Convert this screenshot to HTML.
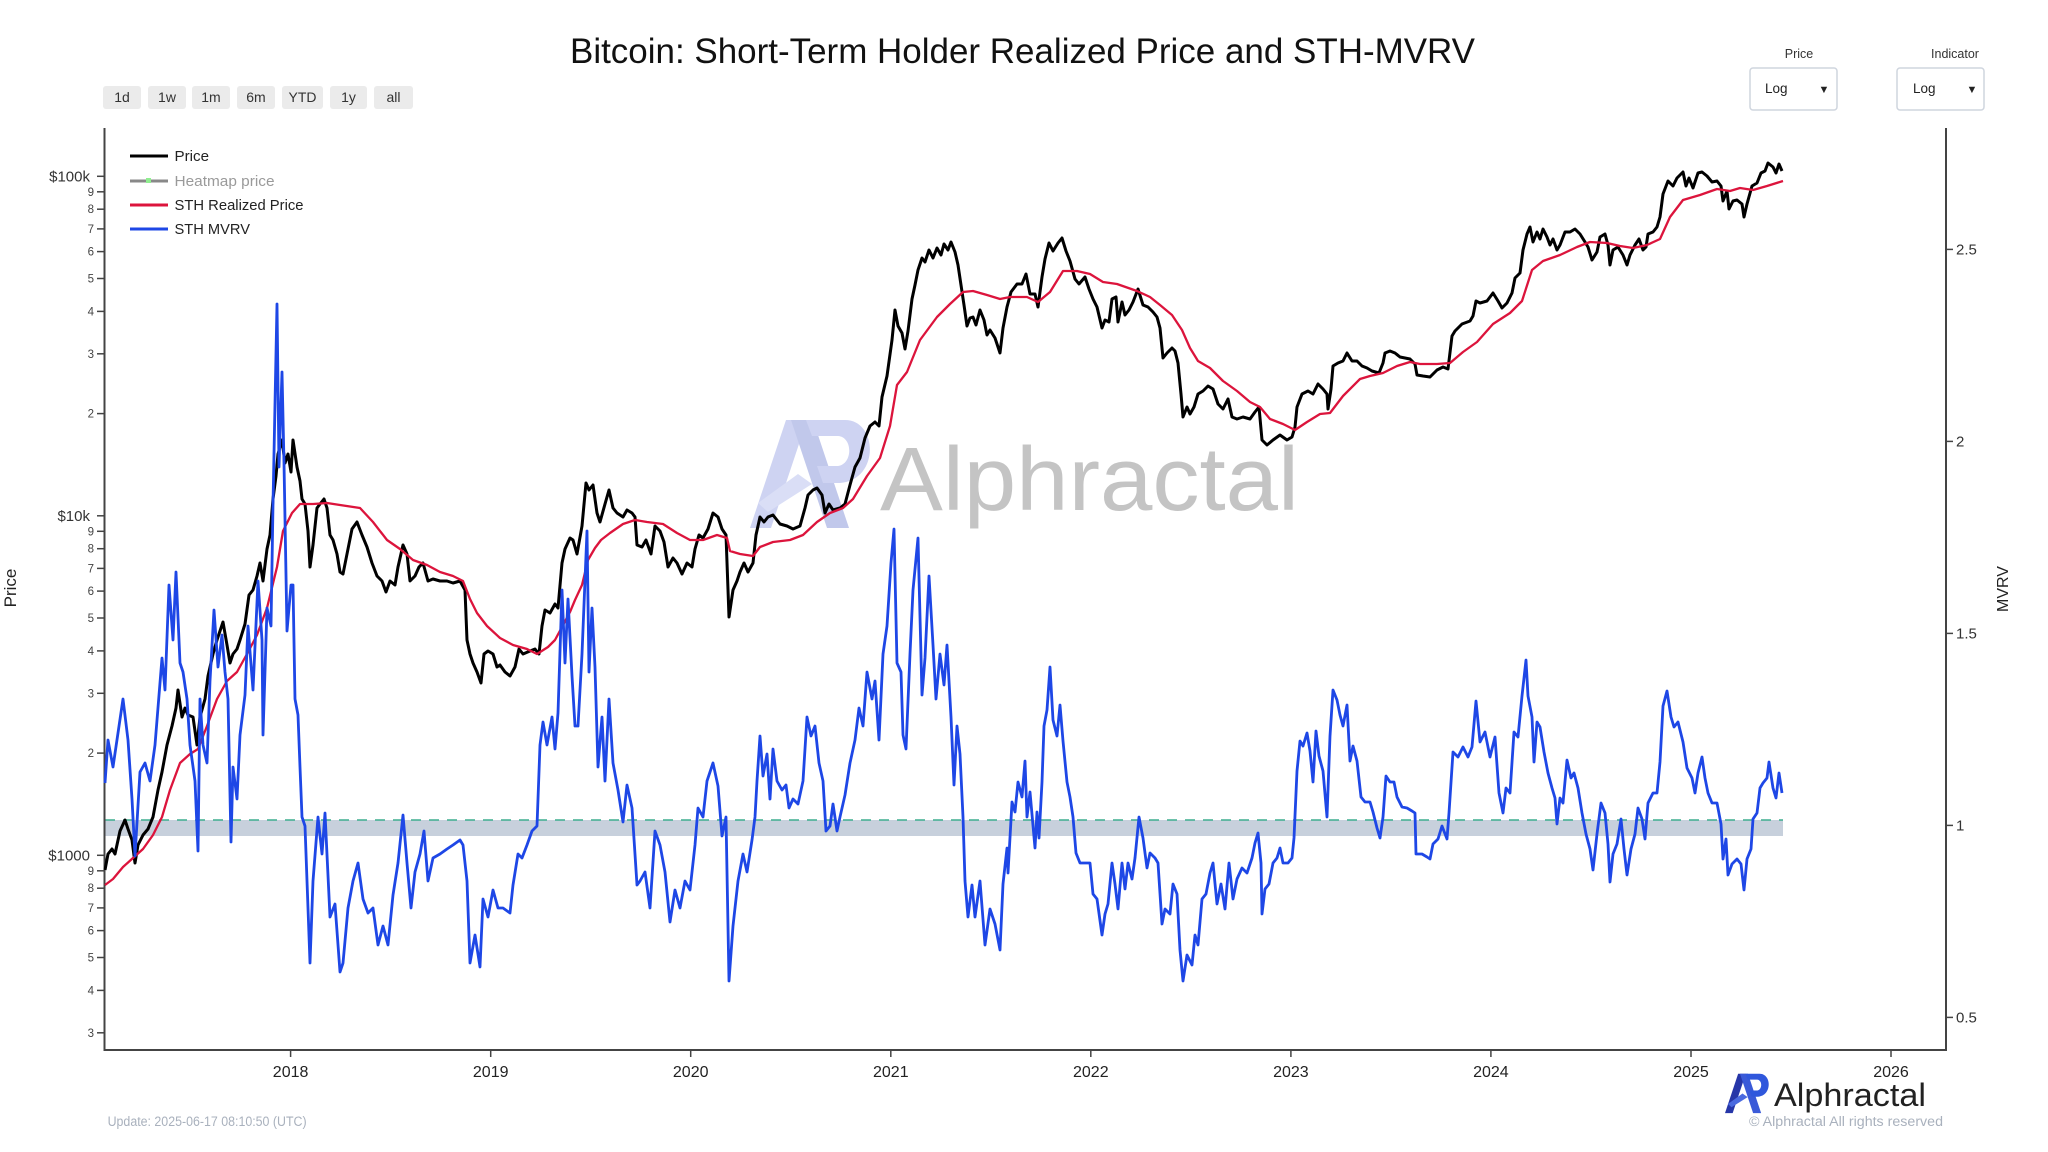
<!DOCTYPE html>
<html><head><meta charset="utf-8">
<style>
html,body{margin:0;padding:0;background:#fff;}
svg{display:block;}
text{font-family:"Liberation Sans",Arial,sans-serif;}
</style></head>
<body>
<svg width="2048" height="1152" viewBox="0 0 2048 1152" xmlns="http://www.w3.org/2000/svg">
<rect width="2048" height="1152" fill="#fff"/>

<!-- Title -->
<text x="570" y="63" font-size="35" fill="#111" textLength="905" lengthAdjust="spacingAndGlyphs">Bitcoin: Short-Term Holder Realized Price and STH-MVRV</text>

<!-- range buttons -->
<g font-size="14" fill="#333" text-anchor="middle">
<rect x="103" y="86" width="38" height="23" rx="3" fill="#ebebeb"/><text x="122" y="102">1d</text>
<rect x="148" y="86" width="38" height="23" rx="3" fill="#ebebeb"/><text x="167" y="102">1w</text>
<rect x="192" y="86" width="38" height="23" rx="3" fill="#ebebeb"/><text x="211" y="102">1m</text>
<rect x="237" y="86" width="38" height="23" rx="3" fill="#ebebeb"/><text x="256" y="102">6m</text>
<rect x="282" y="86" width="41" height="23" rx="3" fill="#ebebeb"/><text x="302.5" y="102">YTD</text>
<rect x="330" y="86" width="37" height="23" rx="3" fill="#ebebeb"/><text x="348.5" y="102">1y</text>
<rect x="374" y="86" width="39" height="23" rx="3" fill="#ebebeb"/><text x="393.5" y="102">all</text>
</g>

<!-- dropdowns -->
<g>
<text x="1799" y="58" font-size="12.5" fill="#333" text-anchor="middle">Price</text>
<rect x="1750" y="68" width="87" height="42" rx="3" fill="#fff" stroke="#cfd5de" stroke-width="1.5"/>
<text x="1765" y="93" font-size="13.5" fill="#222">Log</text>
<text x="1824" y="93" font-size="11" fill="#222" text-anchor="middle">▼</text>
<text x="1955" y="58" font-size="12.5" fill="#333" text-anchor="middle">Indicator</text>
<rect x="1897" y="68" width="87" height="42" rx="3" fill="#fff" stroke="#cfd5de" stroke-width="1.5"/>
<text x="1913" y="93" font-size="13.5" fill="#222">Log</text>
<text x="1972" y="93" font-size="11" fill="#222" text-anchor="middle">▼</text>
</g>

<!-- watermark -->
<g opacity="0.85">
<polygon points="750,528 771,528 807,420 786,420" fill="#c6ccf0"/>
<polygon points="791,420 813,420 849,528 827,528" fill="#b7bfe8"/>
<path d="M806,420 L845,420 C878,420 880,480 840,483 L823,483 L817,466 L838,466 C853,464 853,437 838,436 L812,436 Z" fill="#c6ccf0"/>
<polygon points="758,503 798,474 812,484 768,512" fill="#d4d9f5"/>
</g>
<text x="880" y="510" font-size="90" fill="#c4c4c4" textLength="419" lengthAdjust="spacingAndGlyphs">Alphractal</text>

<!-- band -->
<rect x="105" y="820" width="1678" height="16" fill="#c7d0dc"/>
<line x1="105" y1="820" x2="1783" y2="820" stroke="#3fae8f" stroke-width="1.6" stroke-dasharray="10,8"/>

<!-- axes -->
<g stroke="#444" stroke-width="2" fill="none">
<line x1="104.5" y1="128" x2="104.5" y2="1050"/>
<line x1="1946" y1="128" x2="1946" y2="1050"/>
<line x1="103.5" y1="1050" x2="1947" y2="1050"/>
</g>

<!-- left ticks -->
<g stroke="#444" stroke-width="1.5">
<line x1="97" y1="176.3" x2="104" y2="176.3"/><line x1="97" y1="191.8" x2="104" y2="191.8"/><line x1="97" y1="209.2" x2="104" y2="209.2"/><line x1="97" y1="228.9" x2="104" y2="228.9"/><line x1="97" y1="251.6" x2="104" y2="251.6"/><line x1="97" y1="278.5" x2="104" y2="278.5"/><line x1="97" y1="311.4" x2="104" y2="311.4"/><line x1="97" y1="353.8" x2="104" y2="353.8"/><line x1="97" y1="413.6" x2="104" y2="413.6"/>
<line x1="97" y1="515.8" x2="104" y2="515.8"/><line x1="97" y1="531.3" x2="104" y2="531.3"/><line x1="97" y1="548.7" x2="104" y2="548.7"/><line x1="97" y1="568.4" x2="104" y2="568.4"/><line x1="97" y1="591.1" x2="104" y2="591.1"/><line x1="97" y1="618" x2="104" y2="618"/><line x1="97" y1="650.9" x2="104" y2="650.9"/><line x1="97" y1="693.3" x2="104" y2="693.3"/><line x1="97" y1="753.1" x2="104" y2="753.1"/>
<line x1="97" y1="855.3" x2="104" y2="855.3"/><line x1="97" y1="870.8" x2="104" y2="870.8"/><line x1="97" y1="888.2" x2="104" y2="888.2"/><line x1="97" y1="907.9" x2="104" y2="907.9"/><line x1="97" y1="930.6" x2="104" y2="930.6"/><line x1="97" y1="957.5" x2="104" y2="957.5"/><line x1="97" y1="990.4" x2="104" y2="990.4"/><line x1="97" y1="1032.8" x2="104" y2="1032.8"/>
</g>
<g font-size="15" fill="#333" text-anchor="end">
<text x="90" y="181.5">$100k</text><text x="90" y="521">$10k</text><text x="90" y="860.5">$1000</text>
</g>
<g font-size="11.5" fill="#444" text-anchor="end">
<text x="94" y="195.8">9</text><text x="94" y="213.2">8</text><text x="94" y="232.9">7</text><text x="94" y="255.6">6</text><text x="94" y="282.5">5</text><text x="94" y="315.4">4</text><text x="94" y="357.8">3</text><text x="94" y="417.6">2</text>
<text x="94" y="535.3">9</text><text x="94" y="552.7">8</text><text x="94" y="572.4">7</text><text x="94" y="595.1">6</text><text x="94" y="622">5</text><text x="94" y="654.9">4</text><text x="94" y="697.3">3</text><text x="94" y="757.1">2</text>
<text x="94" y="874.8">9</text><text x="94" y="892.2">8</text><text x="94" y="911.9">7</text><text x="94" y="934.6">6</text><text x="94" y="961.5">5</text><text x="94" y="994.4">4</text><text x="94" y="1036.8">3</text>
</g>

<!-- right ticks -->
<g stroke="#444" stroke-width="1.5">
<line x1="1946" y1="249.4" x2="1953" y2="249.4"/><line x1="1946" y1="441.4" x2="1953" y2="441.4"/><line x1="1946" y1="633.4" x2="1953" y2="633.4"/><line x1="1946" y1="825.4" x2="1953" y2="825.4"/><line x1="1946" y1="1017.4" x2="1953" y2="1017.4"/>
</g>
<g font-size="15" fill="#333">
<text x="1956" y="254.5">2.5</text><text x="1956" y="446.5">2</text><text x="1956" y="638.5">1.5</text><text x="1956" y="830.5">1</text><text x="1956" y="1022.5">0.5</text>
</g>

<!-- x ticks -->
<g stroke="#444" stroke-width="1.5">
<line x1="290.6" y1="1050" x2="290.6" y2="1057"/><line x1="490.7" y1="1050" x2="490.7" y2="1057"/><line x1="690.7" y1="1050" x2="690.7" y2="1057"/><line x1="890.8" y1="1050" x2="890.8" y2="1057"/><line x1="1090.8" y1="1050" x2="1090.8" y2="1057"/><line x1="1290.9" y1="1050" x2="1290.9" y2="1057"/><line x1="1490.9" y1="1050" x2="1490.9" y2="1057"/><line x1="1691" y1="1050" x2="1691" y2="1057"/><line x1="1891" y1="1050" x2="1891" y2="1057"/>
</g>
<g font-size="16" fill="#222" text-anchor="middle">
<text x="290.6" y="1077">2018</text><text x="490.7" y="1077">2019</text><text x="690.7" y="1077">2020</text><text x="890.8" y="1077">2021</text><text x="1090.8" y="1077">2022</text><text x="1290.9" y="1077">2023</text><text x="1490.9" y="1077">2024</text><text x="1691" y="1077">2025</text><text x="1891" y="1077">2026</text>
</g>

<!-- axis titles -->
<text transform="translate(16,588) rotate(-90)" font-size="17" fill="#222" text-anchor="middle">Price</text>
<text transform="translate(2008,589) rotate(-90)" font-size="16" fill="#222" text-anchor="middle">MVRV</text>

<!-- Price -->
<polyline fill="none" stroke="#000" stroke-width="3" stroke-linejoin="round" points="105,870 108,854 112,849 115,854 120,831 125,820 128,829 132,840 135,863 138,845 143,835 148,829 153,817 158,790 162,772 167,745 172,726 176,708 178,690 182,717 185,708 188,715 193,717 197,745 200,717 205,699 208,676 213,654 217,640 220,631 223,622 227,645 230,663 233,654 237,649 240,640 245,624 249,595 253,590 257,576 260,563 263,581 267,549 270,535 273,499 276,476 278,454 282,440 285,463 288,454 291,472 293,440 297,467 300,481 302,499 305,504 308,531 310,567 313,545 317,508 320,504 324,499 327,508 330,535 333,540 337,554 340,572 343,574 347,554 352,529 357,522 362,535 367,547 372,563 377,576 382,581 386,592 390,581 395,585 398,567 403,545 407,554 410,581 415,576 419,567 423,563 428,581 433,579 440,581 447,581 453,583 460,581 465,590 467,640 470,654 473,663 477,672 481,683 484,654 488,651 493,654 497,667 500,665 505,672 510,676 515,667 519,649 523,654 530,651 535,649 539,654 542,626 545,610 550,613 555,604 558,608 562,563 565,549 570,538 573,540 577,554 582,526 586,483 589,490 593,485 597,513 600,522 605,504 609,490 613,508 617,513 623,517 627,510 632,513 635,517 637,545 642,547 646,540 651,554 655,526 660,531 664,542 668,567 673,558 677,563 682,574 687,563 692,567 695,549 699,535 703,538 708,529 713,513 718,517 722,529 726,535 729,617 733,590 737,581 740,572 744,563 748,572 753,563 756,535 760,517 764,522 768,517 773,515 780,524 787,526 793,529 800,526 805,508 808,495 813,490 817,488 822,495 825,513 829,504 833,510 840,508 845,504 850,485 855,467 860,458 865,438 870,426 875,422 879,426 882,397 887,376 892,340 895,310 898,326 902,333 905,349 908,331 912,299 915,285 918,270 922,258 925,262 929,250 933,258 937,248 941,255 944,244 948,250 951,242 955,252 958,265 961,285 964,305 967,326 970,318 973,317 976,325 980,310 984,320 987,335 990,330 995,338 1000,353 1003,328 1007,307 1011,292 1017,284 1022,284 1026,274 1030,294 1035,294 1038,307 1042,277 1045,259 1049,243 1053,251 1058,243 1062,238 1066,251 1070,261 1075,279 1079,284 1085,277 1089,289 1093,299 1097,307 1102,328 1105,320 1109,322 1112,299 1116,297 1118,322 1122,302 1125,315 1129,310 1133,302 1138,289 1143,305 1148,307 1153,312 1157,317 1160,328 1163,358 1167,353 1172,348 1175,351 1178,363 1181,394 1183,417 1187,407 1190,414 1194,407 1198,394 1203,391 1208,386 1213,389 1218,404 1223,409 1228,399 1232,417 1237,419 1243,417 1250,419 1255,412 1259,407 1262,440 1267,445 1273,440 1280,435 1287,440 1292,437 1295,427 1297,407 1302,394 1308,391 1313,394 1318,384 1323,389 1327,394 1328,409 1331,389 1333,366 1338,363 1343,361 1347,353 1352,361 1357,361 1362,366 1367,368 1372,371 1379,373 1383,363 1385,353 1390,351 1395,353 1400,357 1410,359 1415,364 1417,375 1423,376 1430,377 1437,370 1443,367 1448,369 1452,336 1455,331 1462,324 1470,321 1473,316 1476,301 1480,303 1487,301 1493,293 1498,301 1502,308 1507,303 1512,293 1515,278 1520,273 1523,250 1527,234 1530,227 1533,242 1537,232 1540,239 1543,229 1547,237 1550,245 1553,239 1557,250 1560,245 1565,232 1570,232 1575,229 1580,234 1585,242 1588,247 1592,260 1597,252 1600,237 1605,234 1608,245 1610,265 1613,250 1618,247 1623,255 1627,265 1630,255 1635,245 1639,239 1643,250 1646,247 1648,234 1653,232 1657,227 1660,217 1663,194 1668,181 1673,186 1677,178 1683,172 1686,186 1689,178 1693,188 1698,173 1702,172 1707,176 1712,182 1717,181 1721,186 1723,201 1727,191 1729,209 1733,201 1737,200 1742,204 1744,217 1747,204 1752,186 1757,183 1761,173 1765,171 1768,163 1773,167 1776,173 1779,164 1782,171"/>

<!-- STH Realized Price -->
<polyline fill="none" stroke="#dc143c" stroke-width="2.3" stroke-linejoin="round" points="105,885 113,879 123,867 133,858 143,849 153,835 162,817 170,790 180,763 190,754 198,749 207,726 217,699 227,681 237,672 247,654 257,635 267,608 277,567 283,531 292,513 300,504 313,504 327,503 340,505 360,508 373,522 387,540 400,549 413,560 427,565 440,572 453,576 463,581 470,599 477,613 487,626 500,638 513,645 527,649 537,654 548,647 555,640 562,627 570,612 575,600 582,585 588,560 595,548 601,540 610,533 623,524 635,520 647,522 663,524 677,533 690,540 703,540 717,535 727,538 730,551 740,554 753,556 760,547 773,542 790,540 803,535 817,522 830,513 843,508 853,499 867,476 880,458 890,426 897,385 907,372 920,340 937,317 950,304 963,292 973,291 987,295 1000,299 1010,297 1027,297 1038,302 1050,292 1063,271 1077,271 1090,274 1103,282 1117,284 1137,291 1150,297 1160,305 1172,315 1182,330 1190,348 1198,361 1210,368 1223,381 1237,391 1250,402 1260,407 1270,419 1283,424 1295,430 1307,422 1320,414 1330,413 1343,396 1360,379 1370,376 1383,373 1397,366 1410,362 1420,364 1437,364 1450,363 1463,352 1477,342 1493,324 1510,313 1522,301 1532,270 1543,261 1560,255 1577,247 1590,242 1607,243 1620,246 1633,248 1647,245 1660,239 1670,217 1683,200 1700,195 1717,189 1730,191 1740,188 1753,190 1767,186 1783,181"/>

<!-- STH MVRV -->
<polyline fill="none" stroke="#1e47e6" stroke-width="2.8" stroke-linejoin="round" points="105,783 108,740 113,767 123,699 128,740 132,799 135,856 140,772 145,763 150,781 155,745 162,658 165,690 169,585 173,640 176,572 180,663 183,672 187,699 190,745 195,781 198,851 200,699 203,745 207,763 210,681 214,610 218,667 222,635 225,672 228,699 231,842 233,767 237,799 240,735 245,695 248,626 253,690 258,581 262,640 263,735 267,608 271,626 273,504 277,304 279,467 282,372 284,463 287,631 291,585 293,585 295,699 298,715 300,767 302,817 305,826 310,963 313,881 318,817 322,854 325,813 330,917 335,904 340,972 343,963 348,908 353,881 358,863 363,899 368,913 373,908 378,945 383,926 388,945 393,895 398,863 403,815 407,863 411,908 415,872 420,854 424,831 428,881 433,858 440,854 447,849 453,845 460,840 463,845 467,881 470,963 475,935 480,967 483,899 488,917 493,890 498,908 503,908 510,913 513,885 518,854 522,858 527,845 532,831 537,826 540,745 543,722 547,745 552,717 555,749 558,713 562,590 565,663 568,599 572,676 575,726 578,726 582,654 587,531 589,672 592,608 595,667 598,767 602,717 605,781 609,699 613,763 618,790 623,822 627,785 632,808 637,885 640,881 645,872 650,908 655,831 660,845 665,872 670,922 675,890 680,908 685,881 690,890 695,845 698,808 703,817 707,781 713,763 718,786 722,836 726,817 729,981 733,926 738,881 743,854 747,872 752,840 755,817 757,781 760,736 763,776 767,754 770,799 773,749 777,781 782,790 786,785 789,808 793,799 798,804 803,781 807,717 811,736 815,726 819,763 823,781 826,831 830,826 833,804 837,831 840,817 845,795 850,763 855,740 859,708 863,726 867,672 872,699 875,681 879,740 883,654 887,626 891,563 894,529 897,663 901,672 903,735 906,749 910,654 913,590 918,538 922,695 925,658 929,576 933,645 936,699 940,654 944,685 947,645 951,717 954,785 957,726 960,754 963,817 965,881 968,917 972,885 975,917 980,881 985,945 990,909 995,924 1000,950 1003,884 1007,848 1008,873 1012,802 1015,812 1018,782 1022,797 1025,761 1027,817 1030,792 1035,848 1037,812 1039,838 1042,782 1044,726 1047,710 1050,667 1053,720 1057,736 1060,705 1063,741 1067,782 1070,797 1073,817 1076,853 1080,863 1085,863 1090,863 1093,894 1097,899 1102,935 1105,914 1108,904 1112,863 1115,884 1118,909 1122,863 1125,889 1128,863 1132,879 1135,858 1139,817 1143,838 1147,868 1150,853 1155,858 1158,863 1162,924 1165,909 1170,914 1173,884 1177,894 1180,950 1183,981 1187,955 1192,965 1195,935 1198,945 1202,899 1206,894 1210,873 1213,863 1217,904 1221,884 1225,909 1229,863 1233,899 1237,879 1242,868 1247,873 1252,858 1255,843 1258,833 1261,863 1262,914 1265,889 1269,884 1273,863 1277,858 1280,848 1283,863 1288,863 1292,858 1294,838 1297,771 1300,741 1303,746 1307,733 1310,751 1313,782 1316,731 1319,756 1323,771 1327,817 1330,736 1333,690 1337,700 1340,715 1343,726 1347,705 1350,761 1353,746 1357,761 1361,797 1365,802 1370,802 1373,812 1377,828 1380,838 1383,817 1386,776 1390,782 1394,782 1397,797 1402,807 1407,808 1412,811 1415,813 1416,854 1422,854 1427,857 1430,859 1433,844 1438,839 1442,826 1447,839 1449,813 1453,752 1458,757 1463,747 1468,757 1472,747 1476,701 1480,742 1485,732 1490,757 1495,737 1499,793 1503,813 1506,788 1510,793 1514,732 1518,737 1522,696 1526,660 1528,696 1532,717 1534,762 1537,722 1540,727 1544,752 1548,773 1552,788 1555,798 1557,824 1560,798 1563,803 1567,760 1571,778 1574,773 1578,788 1582,813 1586,834 1590,849 1593,870 1597,834 1601,803 1605,813 1608,844 1610,882 1613,854 1617,844 1621,819 1624,849 1627,875 1631,849 1635,834 1638,808 1642,819 1645,839 1648,803 1653,793 1657,793 1660,762 1663,706 1667,691 1671,717 1674,727 1678,722 1683,742 1687,768 1692,778 1695,793 1698,773 1702,757 1705,778 1708,793 1712,803 1717,803 1721,824 1723,859 1726,839 1728,875 1732,864 1737,859 1741,864 1744,890 1747,859 1751,849 1753,819 1757,813 1760,788 1763,783 1767,778 1769,762 1773,788 1776,798 1779,773 1782,793"/>

<!-- legend -->
<g>
<line x1="130" y1="156" x2="168" y2="156" stroke="#000" stroke-width="3"/>
<text x="174.5" y="161" font-size="15" fill="#222" textLength="34.5" lengthAdjust="spacingAndGlyphs">Price</text>
<line x1="130" y1="181" x2="168" y2="181" stroke="#888" stroke-width="3"/>
<rect x="146" y="178" width="5" height="5" fill="#90ee90"/>
<text x="174.5" y="186" font-size="15" fill="#9a9a9a" textLength="100" lengthAdjust="spacingAndGlyphs">Heatmap price</text>
<line x1="130" y1="205" x2="168" y2="205" stroke="#dc143c" stroke-width="3"/>
<text x="174.5" y="210" font-size="15" fill="#222" textLength="129" lengthAdjust="spacingAndGlyphs">STH Realized Price</text>
<line x1="130" y1="229" x2="168" y2="229" stroke="#1e47e6" stroke-width="3"/>
<text x="174.5" y="234" font-size="15" fill="#222" textLength="75.5" lengthAdjust="spacingAndGlyphs">STH MVRV</text>
</g>

<!-- footer -->
<text x="107.6" y="1126" font-size="13.5" fill="#a9b1bd" textLength="199" lengthAdjust="spacingAndGlyphs">Update: 2025-06-17 08:10:50 (UTC)</text>
<g transform="translate(1725,1073) scale(0.365) translate(-750,-418)">
<polygon points="750,528 771,528 807,420 786,420" fill="#2636a8"/>
<polygon points="791,420 813,420 849,528 827,528" fill="#3a5ad8"/>
<path d="M806,420 L845,420 C878,420 880,480 840,483 L823,483 L817,466 L838,466 C853,464 853,437 838,436 L812,436 Z" fill="#2f57dc"/>
<polygon points="758,503 798,474 812,484 768,512" fill="#4a6ae0"/>
</g>
<text x="1774" y="1106" font-size="32" fill="#222" textLength="152" lengthAdjust="spacingAndGlyphs">Alphractal</text>
<text x="1749" y="1126" font-size="13.5" fill="#a9b1bd" textLength="194" lengthAdjust="spacingAndGlyphs">© Alphractal All rights reserved</text>
</svg>
</body></html>
